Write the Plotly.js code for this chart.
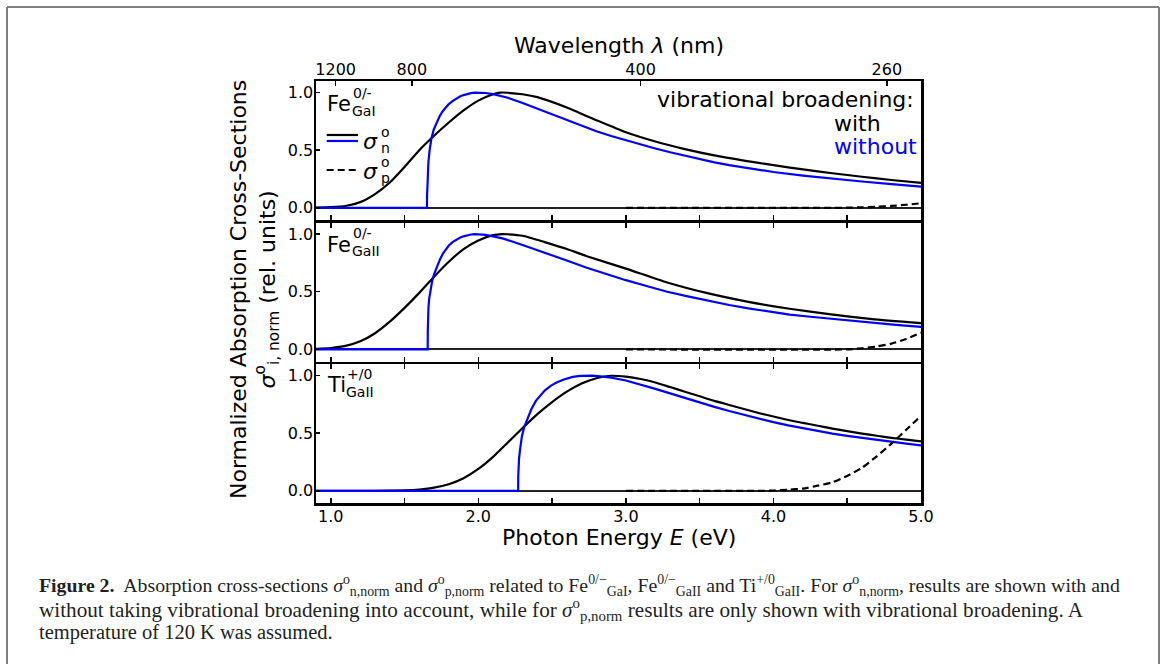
<!DOCTYPE html>
<html><head><meta charset="utf-8">
<script src="https://cdn.plot.ly/plotly-3.0.1.min.js"></script>
<style>html,body{margin:0;padding:0;background:#fff}#chart{width:1163px;height:664px}</style>
</head><body><div id="chart"></div>
<script>
// ---------- DATA ----------
// Panel 1: Fe GaI (0/-)
const feGaI_with_E    = [0.9,1.0,1.1,1.2,1.3,1.4,1.5,1.6,1.7,1.8,1.9,2.0,2.1,2.15,2.2,2.3,2.4,2.6,2.8,3.0,3.2,3.4,3.6,3.8,4.0,4.2,4.4,4.6,4.8,5.0];
const feGaI_with      = [0.002,0.006,0.016,0.05,0.12,0.22,0.355,0.5,0.625,0.74,0.845,0.93,0.985,1.0,0.998,0.985,0.96,0.87,0.76,0.655,0.575,0.51,0.455,0.41,0.37,0.334,0.30,0.27,0.242,0.216];
const feGaI_without_E = [0.9,1.652,1.6525,1.654,1.657,1.662,1.67,1.682,1.698,1.72,1.74,1.76,1.78,1.8,1.825,1.85,1.875,1.9,1.925,1.95,1.975,2.0,2.025,2.05,2.1,2.15,2.2,2.3,2.4,2.5,2.6,2.7,2.8,2.9,3.0,3.1,3.2,3.3,3.4,3.5,3.6,3.7,3.8,3.9,4.0,4.2,4.4,4.6,4.8,5.0];
const feGaI_without   = [0,0,0.1,0.2,0.3,0.4,0.5,0.6,0.68,0.75,0.8,0.84,0.87,0.9,0.925,0.948,0.965,0.978,0.988,0.995,0.999,1.0,0.999,0.996,0.986,0.972,0.955,0.91,0.86,0.81,0.76,0.712,0.665,0.623,0.585,0.548,0.515,0.482,0.451,0.422,0.395,0.371,0.349,0.329,0.311,0.28,0.253,0.229,0.206,0.185];
const feGaI_p_E       = [3.0,4.4,4.5,4.6,4.7,4.8,4.9,5.0];
const feGaI_p         = [0,0,0.002,0.005,0.01,0.017,0.027,0.04];

// Panel 2: Fe GaII (0/-)
const feGaII_with_E    = [0.9,1.0,1.1,1.2,1.3,1.4,1.5,1.6,1.7,1.8,1.9,2.0,2.1,2.16,2.2,2.3,2.45,2.6,2.73,3.0,3.28,3.56,3.83,4.11,4.39,4.67,5.0];
const feGaII_with      = [0.005,0.012,0.03,0.07,0.14,0.24,0.36,0.49,0.63,0.76,0.87,0.945,0.99,1.0,0.998,0.985,0.93,0.87,0.81,0.70,0.58,0.485,0.412,0.352,0.303,0.263,0.228];
const feGaII_without_E = [0.9,1.657,1.6575,1.659,1.662,1.667,1.675,1.687,1.70,1.72,1.74,1.76,1.78,1.8,1.825,1.85,1.875,1.9,1.925,1.95,1.976,2.0,2.05,2.1,2.17,2.3,2.45,2.6,2.73,2.85,3.0,3.14,3.28,3.42,3.56,3.7,3.83,4.0,4.11,4.25,4.39,4.53,4.67,4.83,5.0];
const feGaII_without   = [0,0,0.15,0.28,0.36,0.44,0.52,0.59,0.65,0.72,0.78,0.83,0.87,0.90,0.93,0.952,0.968,0.98,0.99,0.996,1.0,0.999,0.993,0.98,0.96,0.905,0.84,0.77,0.71,0.66,0.60,0.55,0.50,0.46,0.42,0.385,0.355,0.32,0.302,0.283,0.265,0.248,0.231,0.213,0.195];
const feGaII_p_E       = [3.0,4.5,4.6,4.7,4.8,4.9,5.0];
const feGaII_p         = [0,0,0.01,0.025,0.05,0.09,0.145];

// Panel 3: Ti GaII (+/0)
const tiGaII_with_E    = [0.9,1.2,1.4,1.5,1.6,1.7,1.8,1.9,2.0,2.1,2.2,2.3,2.4,2.5,2.6,2.7,2.8,2.9,3.0,3.1,3.2,3.3,3.4,3.5,3.6,3.7,3.8,3.9,4.0,4.1,4.2,4.3,4.4,4.5,4.6,4.7,4.8,4.9,5.0];
const tiGaII_with      = [0,0.001,0.002,0.004,0.012,0.028,0.058,0.11,0.19,0.295,0.42,0.545,0.665,0.77,0.86,0.93,0.977,0.998,0.99,0.97,0.94,0.90,0.86,0.82,0.78,0.745,0.71,0.675,0.645,0.615,0.59,0.565,0.54,0.518,0.497,0.478,0.46,0.444,0.43];
const tiGaII_without_E = [0.9,2.27,2.2705,2.272,2.276,2.283,2.295,2.31,2.337,2.36,2.39,2.42,2.45,2.49,2.53,2.58,2.64,2.69,2.73,2.77,2.81,2.9,3.0,3.1,3.2,3.3,3.4,3.5,3.6,3.7,3.8,3.9,4.0,4.1,4.2,4.3,4.4,4.5,4.6,4.7,4.8,4.9,5.0];
const tiGaII_without   = [0,0,0.12,0.2,0.28,0.36,0.47,0.55,0.64,0.71,0.78,0.83,0.87,0.91,0.94,0.966,0.988,0.997,1.0,0.999,0.995,0.982,0.957,0.922,0.884,0.845,0.805,0.766,0.728,0.692,0.658,0.626,0.596,0.568,0.542,0.518,0.496,0.477,0.459,0.442,0.425,0.409,0.394];
const tiGaII_p_E       = [3.0,3.9,4.0,4.1,4.2,4.3,4.4,4.5,4.6,4.7,4.8,4.9,5.0];
const tiGaII_p         = [0,0,0.003,0.01,0.02,0.045,0.075,0.13,0.20,0.30,0.41,0.53,0.65];

// Axis ticks
const energyTicks      = [1.0,2.0,3.0,4.0,5.0];
const energyTickLabels = ['1.0','2.0','3.0','4.0','5.0'];
const energyMinorTicks = [1.5,2.5,3.5,4.5];
const wavelengthTicks  = [1200,800,400,260];
const yTicks           = [0,0.5,1.0];
const yTickLabels      = ['0.0','0.5','1.0'];

// ---------- FIGURE ----------
const FONT = 'DejaVu Sans';
const BLACK = '#000000', BLUE = '#0000ff';
const L = 316, R = 242, T = 81, B = 161, W = 1163, H = 664;
const PW = W - L - R, PH = H - T - B;
const px = x => (x - L) / PW;          // pixel -> paper
const py = y => (H - B - y) / PH;
const GAP = 2.5 / PH, PANEL = (1 - 2 * GAP) / 3;

function line(x, y, xa, ya, color, dash, shape) {
  return {x: x, y: y, xaxis: xa, yaxis: ya, type: 'scatter', mode: 'lines',
    line: {color: color, width: 2.2, dash: dash || 'solid', shape: shape || 'spline', smoothing: 0.5},
    hoverinfo: 'skip', showlegend: false};
}

const traces = [
  line(feGaI_with_E, feGaI_with, 'x3', 'y3', BLACK),
  line(feGaI_without_E, feGaI_without, 'x3', 'y3', BLUE, null, 'linear'),
  line(feGaI_p_E, feGaI_p, 'x3', 'y3', BLACK, '7px,4px'),
  line(feGaII_with_E, feGaII_with, 'x2', 'y2', BLACK),
  line(feGaII_without_E, feGaII_without, 'x2', 'y2', BLUE, null, 'linear'),
  line(feGaII_p_E, feGaII_p, 'x2', 'y2', BLACK, '7px,4px'),
  line(tiGaII_with_E, tiGaII_with, 'x', 'y', BLACK),
  line(tiGaII_without_E, tiGaII_without, 'x', 'y', BLUE, null, 'linear'),
  line(tiGaII_p_E, tiGaII_p, 'x', 'y', BLACK, '7px,4px'),
  // carrier for the top wavelength axis (no visible marks)
  {x: [], y: [], xaxis: 'x4', yaxis: 'y3', type: 'scatter', mode: 'lines', hoverinfo: 'skip', showlegend: false}
];

const tickFont = {family: FONT, size: 16, color: BLACK};
function xAxis(anchor, labels, mirror) {
  return {anchor: anchor, range: [0.9, 5.0], tickmode: 'array', tickvals: energyTicks,
    ticktext: energyTickLabels, showticklabels: !!labels, ticklabelstandoff: -3,
    ticks: 'inside', ticklen: 5, tickwidth: 1.5, tickcolor: BLACK,
    minor: {tickmode: 'array', tickvals: energyMinorTicks, ticks: 'inside', ticklen: 5, tickwidth: 1.5, tickcolor: BLACK, showgrid: false},
    showline: true, linewidth: 2.5, linecolor: BLACK, mirror: mirror,
    showgrid: false, zeroline: false, tickfont: tickFont, fixedrange: true};
}
function yAxis(anchor, domain) {
  return {anchor: anchor, domain: domain, range: [-0.105, 1.1], tickmode: 'array',
    tickvals: yTicks, ticktext: yTickLabels, ticks: 'inside', ticklen: 4, tickwidth: 1.5,
    ticklabelstandoff: -3,
    tickcolor: BLACK, showline: true, linewidth: 2.5, linecolor: BLACK, mirror: true,
    showgrid: false, zeroline: true, zerolinecolor: '#222222', zerolinewidth: 2.2,
    tickfont: tickFont, fixedrange: true};
}

const layout = {
  width: W, height: H, paper_bgcolor: '#ffffff', plot_bgcolor: '#ffffff',
  margin: {l: L, r: R, t: T, b: B, pad: 0}, showlegend: false,
  font: {family: FONT, color: BLACK},
  xaxis: xAxis('y', true, 'ticks'),
  xaxis2: xAxis('y2', false, 'ticks'),
  xaxis3: xAxis('y3', false, true),
  xaxis4: {overlaying: 'x3', anchor: 'y3', side: 'top', range: [0.9, 5.0], tickmode: 'array',
    tickvals: wavelengthTicks.map(l => 1239.84 / l), ticktext: wavelengthTicks.map(String),
    ticks: 'inside', ticklen: 5, tickwidth: 1.5, tickcolor: BLACK, showline: false,
    ticklabelstandoff: 2,
    showgrid: false, zeroline: false, tickfont: tickFont, fixedrange: true},
  yaxis: yAxis('x', [0, PANEL]),
  yaxis2: yAxis('x2', [PANEL + GAP, 2 * PANEL + GAP]),
  yaxis3: yAxis('x3', [2 * PANEL + 2 * GAP, 1]),
  shapes: [],
  annotations: []
};

const A = layout.annotations, S = layout.shapes;
function txt(text, x, y, size, opts) {
  A.push(Object.assign({text: text, xref: 'paper', yref: 'paper', x: px(x), y: py(y),
    xanchor: 'left', yanchor: 'middle', showarrow: false,
    font: {family: FONT, size: size, color: BLACK}}, opts || {}));
}

// axis titles
txt('Photon Energy <i>E</i> (eV)', 618.5, 537, 22, {xanchor: 'center'});
txt('Wavelength <i>λ</i> (nm)', 618.5, 45, 22, {xanchor: 'center'});
txt('Normalized Absorption Cross-Sections<br><i>σ</i><sup>o</sup><sub>i, norm</sub> (rel. units)', 254, 290, 22,
    {xanchor: 'center', textangle: -90});

// panel labels
const panelTops = [81, 221.7, 362.3];
const panelNames = [['Fe', '0/-', 'GaI', 351], ['Fe', '0/-', 'GaII', 351], ['Ti', '+/0', 'GaII', 345]];
panelNames.forEach((p, i) => {
  const t = panelTops[i];
  txt(p[0], 325, t + 23, 21);
  txt(p[1], p[3], t + 11.5, 14);
  txt(p[2], p[3] - 1, t + 29.5, 14);
});

// legend (panel 1)
S.push({type: 'line', xref: 'paper', yref: 'paper', x0: px(326.7), x1: px(358), y0: py(135), y1: py(135), line: {color: BLACK, width: 2.2}});
S.push({type: 'line', xref: 'paper', yref: 'paper', x0: px(326.7), x1: px(358), y0: py(141), y1: py(141), line: {color: BLUE, width: 2.2}});
S.push({type: 'line', xref: 'paper', yref: 'paper', x0: px(326.7), x1: px(358), y0: py(170), y1: py(170), line: {color: BLACK, width: 2.2, dash: '7px,4px'}});
txt('<i>σ</i>', 361, 141, 22);
txt('o', 379, 132, 14);
txt('n', 379, 148, 14);
txt('<i>σ</i>', 361, 171, 22);
txt('o', 379, 162, 14);
txt('p', 379, 178, 14);

// right-hand note
txt('vibrational broadening:', 916, 99, 22, {xanchor: 'right'});
txt('with', 832, 123, 22);
txt('without', 832, 146, 22, {font: {family: FONT, size: 22, color: BLUE}});

// figure frame
S.push({type: 'line', xref: 'paper', yref: 'paper', x0: px(7), x1: px(7), y0: py(7), y1: py(700), line: {color: '#808080', width: 2}});
S.push({type: 'line', xref: 'paper', yref: 'paper', x0: px(7), x1: px(1159), y0: py(7), y1: py(7), line: {color: '#808080', width: 2}});
S.push({type: 'line', xref: 'paper', yref: 'paper', x0: px(1159), x1: px(1159), y0: py(7), y1: py(700), line: {color: '#808080', width: 2}});

// caption
const CAP = {family: 'Liberation Serif', size: 20, color: '#231f20'};
const sig = (s) => '<i>σ</i><sup>o</sup><sub>' + s + '</sub>';
txt('<b>Figure 2.</b>  Absorption cross-sections ' + sig('n,norm') + ' and ' + sig('p,norm') +
    ' related to Fe<sup>0/−</sup><sub>GaI</sub>, Fe<sup>0/−</sup><sub>GaII</sub> and Ti<sup>+/0</sup><sub>GaII</sub>. For ' +
    sig('n,norm') + ', results are shown with and', 37, 585, 20, {font: Object.assign({}, CAP, {size: 19.8})});
txt('without taking vibrational broadening into account, while for ' + sig('p,norm') +
    ' results are only shown with vibrational broadening. A', 37, 609, 20, {font: Object.assign({}, CAP, {size: 21.2})});
txt('temperature of 120 K was assumed.', 37, 632, 20, {font: Object.assign({}, CAP, {size: 20.5})});

Plotly.newPlot('chart', traces, layout, {staticPlot: true, displayModeBar: false});
</script>
</body></html>
